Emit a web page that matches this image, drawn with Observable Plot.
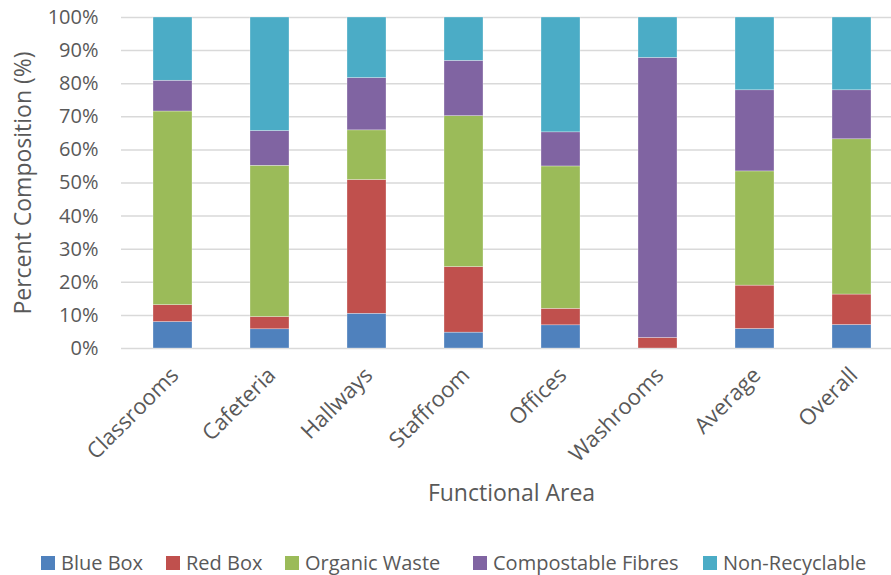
<!DOCTYPE html>
<html>
<head>
<meta charset="utf-8">
<script src="https://cdn.jsdelivr.net/npm/d3@7"></script>
<script src="https://cdn.jsdelivr.net/npm/@observablehq/plot@0.6"></script>
<style>
  html, body { margin: 0; padding: 0; background: #fff; }
  body { width: 891px; height: 575px; overflow: hidden; font-family: "Open Sans", sans-serif; position: relative; }
  #legend { position: absolute; top: 553px; left: 0; width: 891px; height: 20px; font-size: 20px; line-height: 20px; color: #595959; }
  .item { position: absolute; top: 0; display: flex; align-items: center; white-space: nowrap; height: 20px; }
  .sw { width: 14px; height: 14px; margin-right: 6px; }
</style>
</head>
<body>
<div id="chart"></div>
<div id="legend"></div>
<script>
const areas = ["Classrooms", "Cafeteria", "Hallways", "Staffroom", "Offices", "Washrooms", "Average", "Overall"];
const series = ["Blue Box", "Red Box", "Organic Waste", "Compostable Fibres", "Non-Recyclable"];
const colors = ["#4f81bd", "#c0504d", "#9bbb59", "#8064a2", "#4bacc6"];
const blueBox     = [8.0, 5.8, 10.5, 4.8, 7.0, 0.0, 5.9, 7.1];
const redBox      = [5.1, 3.7, 40.4, 19.8, 5.0, 3.2, 13.1, 9.2];
const organic     = [58.5, 45.7, 15.0, 45.6, 43.0, 0.0, 34.5, 46.9];
const compostable = [9.3, 10.5, 15.8, 16.7, 10.3, 84.6, 24.5, 14.8];
const nonRecycl   = [19.1, 34.3, 18.3, 13.1, 34.7, 12.2, 22.0, 22.0];
const yTicks = [0, 10, 20, 30, 40, 50, 60, 70, 80, 90, 100];

const valuesBySeries = [blueBox, redBox, organic, compostable, nonRecycl];
const data = [];
series.forEach((s, si) => areas.forEach((a, ai) => data.push({area: a, series: s, value: valuesBySeries[si][ai] / 100})));

const textColor = "#595959";
const chart = Plot.plot({
  width: 891,
  height: 545,
  marginLeft: 121,
  marginRight: 0,
  marginTop: 17,
  marginBottom: 197,
  style: {fontFamily: "Open Sans, sans-serif", color: textColor, background: "#fff"},
  x: {domain: areas, range: [121, 902], paddingInner: 0.6, paddingOuter: 0.3},
  y: {domain: [0, 1]},
  color: {domain: series, range: colors},
  marks: [
    Plot.ruleY(yTicks.map(d => d / 100), {stroke: "#d9d9d9", strokeWidth: 1.5, strokeOpacity: 1}),
    Plot.barY(data, {x: "area", y: "value", fill: "series", stroke: "#ffffff", strokeWidth: 0.5, strokeOpacity: 0.6}),
    Plot.axisY(yTicks.map(d => d / 100), {tickFormat: d3.format(".0%"), tickSize: 0, tickPadding: 23, fontSize: 20,
      label: "Percent Composition (%)", labelAnchor: "center", labelArrow: "none", labelOffset: 107}),
    Plot.axisX({tickSize: 0, tickRotate: -45, tickPadding: 23, dx: 2, fontSize: 22, label: null}),
    Plot.text(["Functional Area"], {frameAnchor: "bottom", dx: 5, dy: 152, fontSize: 23, fill: textColor})
  ]
});
d3.select(chart).selectAll("[aria-label='y-axis label'] text").style("font-size", "23px");
document.getElementById("chart").appendChild(chart);

const legend = document.getElementById("legend");
const lx = [41, 166, 285, 473, 703];
series.forEach((s, i) => {
  const it = document.createElement("div");
  it.className = "item";
  it.style.left = lx[i] + "px";
  it.innerHTML = `<span class="sw" style="background:${colors[i]}"></span><span>${s}</span>`;
  legend.appendChild(it);
});
</script>
</body>
</html>
